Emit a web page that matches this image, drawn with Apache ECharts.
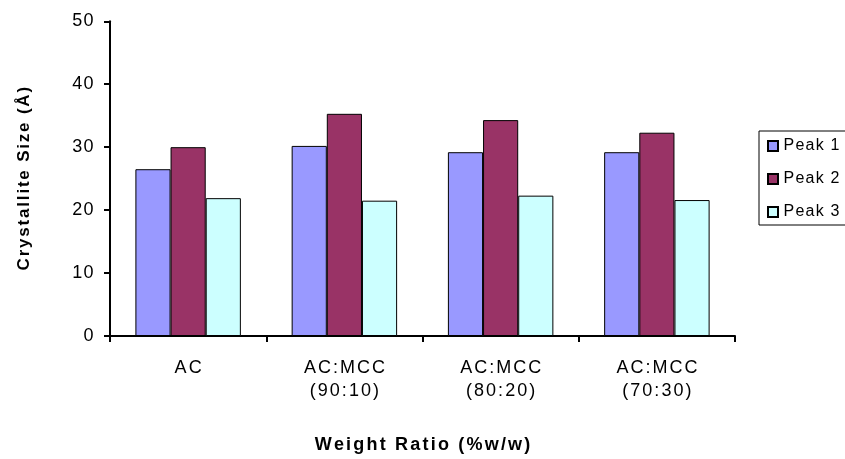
<!DOCTYPE html>
<html>
<head>
<meta charset="utf-8">
<script src="https://cdn.jsdelivr.net/npm/echarts@6/dist/echarts.min.js"></script>
<style>
html,body{margin:0;padding:0;background:#fff;}
#chart{width:845px;height:459px;}
</style>
</head>
<body>
<div id="chart"></div>
<script>
const categories = ['AC', 'AC:MCC\n(90:10)', 'AC:MCC\n(80:20)', 'AC:MCC\n(70:30)'];
const peak1 = [26.5, 30.2, 29.2, 29.2];
const peak2 = [30.0, 35.3, 34.3, 32.3];
const peak3 = [21.9, 21.5, 22.3, 21.6];
const seriesNames = ['Peak 1', 'Peak 2', 'Peak 3'];
const yTicks = [0, 10, 20, 30, 40, 50];

const FONT = '"Liberation Sans", Arial, sans-serif';
const chart = echarts.init(document.getElementById('chart'), null, {renderer: 'canvas'});
const colors = ['#9999FF', '#993366', '#CCFFFF'];
const data = [peak1, peak2, peak3];

// emulate the wide letter spacing of the original text
function spaced(str) {
  return String(str).split('\n').map(line =>
    line.split('').map(ch => '{s|' + ch + '}').join('')
  ).join('\n');
}
function richS(size, weight, pad, lh) {
  return {s: {fontFamily: FONT, fontSize: size, fontWeight: weight, color: '#000',
              padding: [0, pad, 0, pad], lineHeight: lh}};
}

chart.setOption({
  animation: false,
  backgroundColor: '#ffffff',
  grid: {left: 110, right: 110, top: 21.3, bottom: 119.7, containLabel: false},
  legend: {
    orient: 'vertical',
    left: 759,
    top: 131,
    data: seriesNames,
    icon: 'rect',
    itemWidth: 10,
    itemHeight: 10,
    itemGap: 17,
    padding: [7, 40, 5, 8],
    borderColor: '#000',
    borderWidth: 1,
    formatter: n => spaced(n),
    textStyle: {fontFamily: FONT, fontSize: 16, color: '#000', rich: richS(16, 'normal', 0.6, 16)}
  },
  xAxis: {
    type: 'category',
    data: categories,
    name: spaced('Weight Ratio (%w/w)'),
    nameLocation: 'middle',
    nameGap: 100,
    nameTextStyle: {fontFamily: FONT, fontSize: 18, fontWeight: 'bold', color: '#000',
                    rich: richS(18, 'bold', 1.1, 18)},
    axisLine: {lineStyle: {color: '#000', width: 2}},
    axisTick: {show: true, interval: 0, length: 6, lineStyle: {color: '#000', width: 2}},
    axisLabel: {interval: 0, fontFamily: FONT, fontSize: 18, color: '#000', margin: 21, lineHeight: 23,
                formatter: v => spaced(v), rich: richS(18, 'normal', 1.0, 23)}
  },
  yAxis: {
    type: 'value',
    min: yTicks[0],
    max: yTicks[yTicks.length - 1],
    interval: 10,
    name: spaced('Crystallite Size (Å)'),
    nameLocation: 'middle',
    nameGap: 77,
    nameTextStyle: {fontFamily: FONT, fontSize: 17, fontWeight: 'bold', color: '#000',
                    rich: richS(17, 'bold', 0.9, 17)},
    splitLine: {show: false},
    axisLine: {show: true, lineStyle: {color: '#000', width: 2}},
    axisTick: {show: true, length: 6, lineStyle: {color: '#000', width: 2}},
    axisLabel: {fontFamily: FONT, fontSize: 18, color: '#000', margin: 16,
                formatter: v => spaced(v), rich: richS(18, 'normal', 0.6, 18)}
  },
  series: seriesNames.map((n, i) => ({
    name: n,
    type: 'bar',
    data: data[i],
    barGap: '0%',
    barCategoryGap: '32.5%',
    itemStyle: {color: colors[i], borderColor: '#000', borderWidth: 1}
  }))
});
</script>
</body>
</html>
